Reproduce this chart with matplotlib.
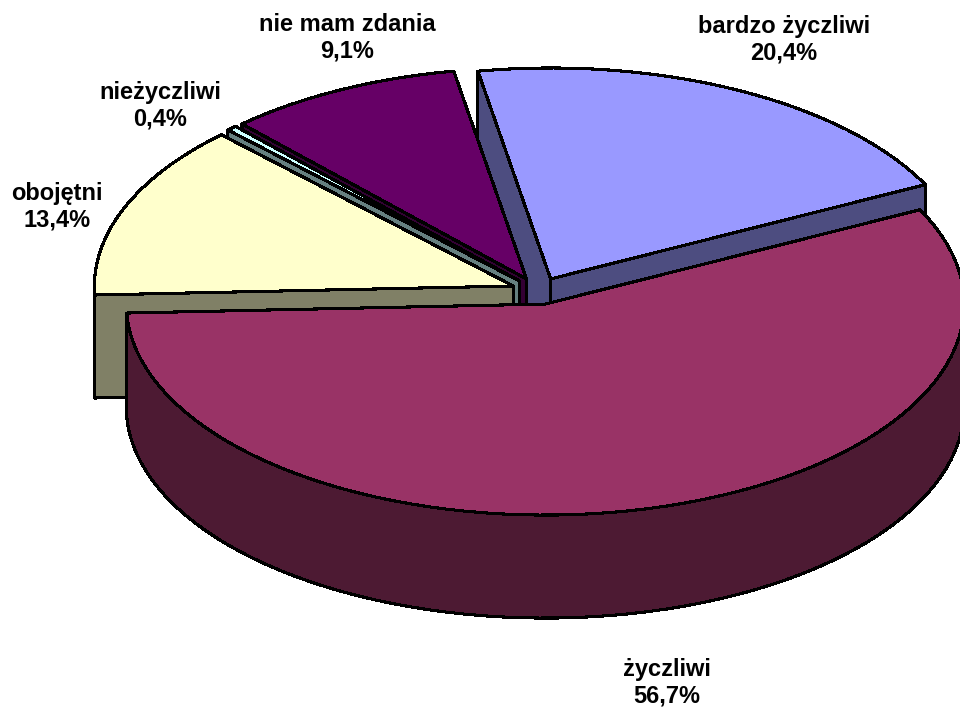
import numpy as np
import matplotlib
matplotlib.use("Agg")
import matplotlib.pyplot as plt
from matplotlib.patches import Polygon

categories = ["bardzo życzliwi", "życzliwi", "obojętni", "nieżyczliwi", "nie mam zdania"]
values = [20.4, 56.7, 13.4, 0.4, 9.1]
top_colors = ["#9999FF", "#993366", "#FFFFCC", "#CCFFFF", "#660066"]
side_colors = ["#4D4D80", "#4D1A33", "#808066", "#668080", "#330033"]
label_pos = [(784, 40), (667, 683), (57, 207), (160, 106), (347, 38)]
draw_order = [0, 4, 3, 2, 1]

START = 100.0
CX, CY = 538.5, 291.0
A, B = 419.0, 211.0
DEPTH = 103.0
EXPLODE = 27.0

plt.rcParams['font.family'] = ['Liberation Sans', 'DejaVu Sans']
fig = plt.figure(figsize=(9.6, 7.13), dpi=100)
ax = fig.add_axes([0, 0, 1, 1])
ax.set_xlim(0, 960)
ax.set_ylim(713, 0)
ax.axis('off')

total = sum(values)
angle = START
spans = []
for v in values:
    spans.append((angle, angle - v / total * 360.0))
    angle = spans[-1][1]


def pt(cx, cy, t):
    r = np.radians(t)
    return cx + A * np.cos(r), cy - B * np.sin(r)


for i in draw_order:
    a0, a1 = spans[i]
    mid = np.radians((a0 + a1) / 2)
    cx = CX + EXPLODE * np.cos(mid)
    cy = CY - EXPLODE * 0.5 * np.sin(mid)
    ts = np.linspace(a0, a1, max(3, int(abs(a1 - a0) / 2.5)))
    xs, ys = pt(cx, cy, ts)
    kw = dict(edgecolor='black', linewidth=1.5, joinstyle='round', antialiased=False)
    # cut faces: the one with the lower outer corner goes last
    ends = sorted([(xs[0], ys[0]), (xs[-1], ys[-1])], key=lambda p: p[1])
    for x, y in ends:
        ax.add_patch(Polygon([(cx, cy), (x, y), (x, y + DEPTH), (cx, cy + DEPTH)],
                             closed=True, facecolor=side_colors[i], **kw))
    # outer wall, only where it faces the viewer
    s = np.sin(np.radians(ts))
    m = s <= 0.02
    if m.sum() > 1:
        wx, wy = xs[m], ys[m]
        ax.add_patch(Polygon(np.r_[np.c_[wx, wy], np.c_[wx[::-1], wy[::-1] + DEPTH]],
                             closed=True, facecolor=side_colors[i], **kw))
    # top face
    ax.add_patch(Polygon(np.r_[[(cx, cy)], np.c_[xs, ys]], closed=True,
                         facecolor=top_colors[i], **kw))

for name, v, (x, y) in zip(categories, values, label_pos):
    ax.text(x, y, f"{name}\n{v:.1f}%".replace('.', ','), ha='center', va='center',
            fontsize=17, fontweight='bold', color='black', linespacing=1.22)

fig.savefig("out.png", dpi=100, facecolor='white')
